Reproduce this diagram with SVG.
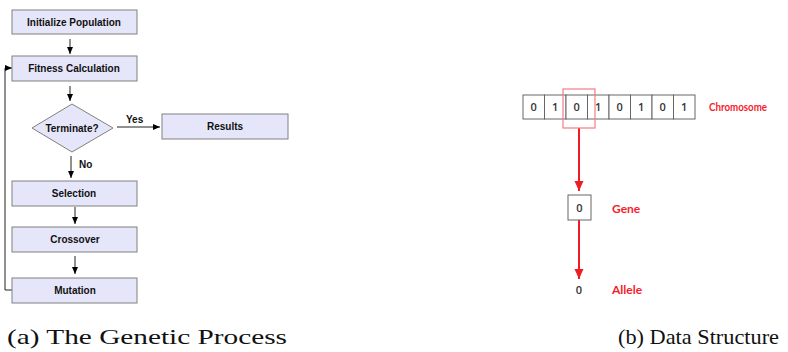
<svg xmlns="http://www.w3.org/2000/svg" width="788" height="352" viewBox="0 0 788 352">
<defs>
<marker id="ah" markerWidth="8" markerHeight="8" refX="7" refY="4" orient="auto" markerUnits="userSpaceOnUse"><path d="M0,1 L7,4 L0,7 Z" fill="#000"/></marker>
<marker id="rh" markerWidth="10" markerHeight="12" refX="10" refY="5" orient="auto" markerUnits="userSpaceOnUse"><path d="M0,0.5 L10,5 L0,9.5 Z" fill="#ee1c24"/></marker>
<style>
.box{fill:#e6e6fa;stroke:#808080;stroke-width:1}
.t{font-family:"Liberation Sans",Arial,sans-serif;font-weight:bold;font-size:10px;fill:#111;text-anchor:middle}
.lbl{font-family:"Liberation Sans",Arial,sans-serif;font-weight:bold;font-size:10px;fill:#111}
.ln{stroke:#222;stroke-width:1;fill:none}
.cell{fill:#fff;stroke:#666;stroke-width:1}
.d{font-family:"Open Sans","Liberation Sans",sans-serif;font-size:11px;font-weight:600;fill:#333;text-anchor:middle}
.r{font-family:Lato,"Open Sans","Liberation Sans",sans-serif;font-size:12px;font-weight:bold;fill:#f51c2c}
.cap{font-family:"Liberation Serif","Times New Roman",serif;font-size:22px;fill:#111}
</style>
</defs>
<rect width="788" height="352" fill="#fff"/>
<g id="connectors">
<line class="ln" x1="70" y1="39" x2="70" y2="54" marker-end="url(#ah)"/>
<line class="ln" x1="70" y1="86" x2="70" y2="101" marker-end="url(#ah)"/>
<line class="ln" x1="117" y1="127" x2="160" y2="127" stroke="#888" marker-end="url(#ah)"/>
<text class="lbl" x="126" y="123">Yes</text>
<line class="ln" x1="71" y1="156" x2="71" y2="178" stroke="#888" marker-end="url(#ah)"/>
<text class="lbl" x="79" y="168">No</text>
<line class="ln" x1="75" y1="207" x2="75" y2="224" marker-end="url(#ah)"/>
<line class="ln" x1="75" y1="256" x2="75" y2="274" marker-end="url(#ah)"/>
<polyline class="ln" stroke="#666" points="12,290 5,290 5,68 12,68" marker-end="url(#ah)"/>
<line stroke="#ee1c24" stroke-width="2" x1="579" y1="128" x2="579" y2="191" marker-end="url(#rh)"/>
<line stroke="#ee1c24" stroke-width="2" x1="579" y1="220" x2="579" y2="279" marker-end="url(#rh)"/>
</g>
<g id="init"><rect class="box" x="12" y="10" width="125" height="24"/><text class="t" x="74" y="25.5">Initialize Population</text></g>
<g id="fitness"><rect class="box" x="12" y="56" width="125" height="25"/><text class="t" x="74" y="72">Fitness Calculation</text></g>
<g id="terminate"><polygon class="box" points="72,104 113,128 72,152 32,128"/><text class="t" x="72" y="131.5">Terminate?</text></g>
<g id="results"><rect class="box" x="162" y="114" width="126" height="25"/><text class="t" x="225" y="130">Results</text></g>
<g id="selection"><rect class="box" x="12" y="181" width="125" height="25"/><text class="t" x="74" y="197">Selection</text></g>
<g id="crossover"><rect class="box" x="12" y="227" width="125" height="25"/><text class="t" x="75" y="243">Crossover</text></g>
<g id="mutation"><rect class="box" x="12" y="278" width="125" height="25"/><text class="t" x="75" y="294">Mutation</text></g>
<g id="chromosome">
<rect class="cell" x="523" y="95" width="21.5" height="24"/>
<rect class="cell" x="544.5" y="95" width="21.5" height="24"/>
<rect class="cell" x="566" y="95" width="21.5" height="24"/>
<rect class="cell" x="587.5" y="95" width="21.5" height="24"/>
<rect class="cell" x="609" y="95" width="21.5" height="24"/>
<rect class="cell" x="630.5" y="95" width="21.5" height="24"/>
<rect class="cell" x="652" y="95" width="21.5" height="24"/>
<rect class="cell" x="673.5" y="95" width="21.5" height="24"/>
<text class="d" x="533.75" y="111">0</text>
<text class="d" x="555.25" y="111">1</text>
<text class="d" x="576.75" y="111">0</text>
<text class="d" x="598.25" y="111">1</text>
<text class="d" x="619.75" y="111">0</text>
<text class="d" x="641.25" y="111">1</text>
<text class="d" x="662.75" y="111">0</text>
<text class="d" x="684.25" y="111">1</text>
<rect x="563" y="89" width="32" height="39" fill="none" stroke="#f47c84" stroke-width="1.2"/>
<text class="r" x="709" y="111" textLength="58" lengthAdjust="spacingAndGlyphs">Chromosome</text>
</g>
<g id="gene"><rect class="cell" x="568" y="195" width="23" height="25"/><text class="d" x="579.5" y="212">0</text><text class="r" x="612" y="213">Gene</text></g>
<g id="allele"><text class="d" x="579" y="294">0</text><text class="r" x="612" y="294">Allele</text></g>
<text class="cap" x="7" y="344" textLength="280" lengthAdjust="spacingAndGlyphs">(a) The Genetic Process</text>
<text class="cap" x="618" y="344" textLength="161" lengthAdjust="spacingAndGlyphs">(b) Data Structure</text>
</svg>
